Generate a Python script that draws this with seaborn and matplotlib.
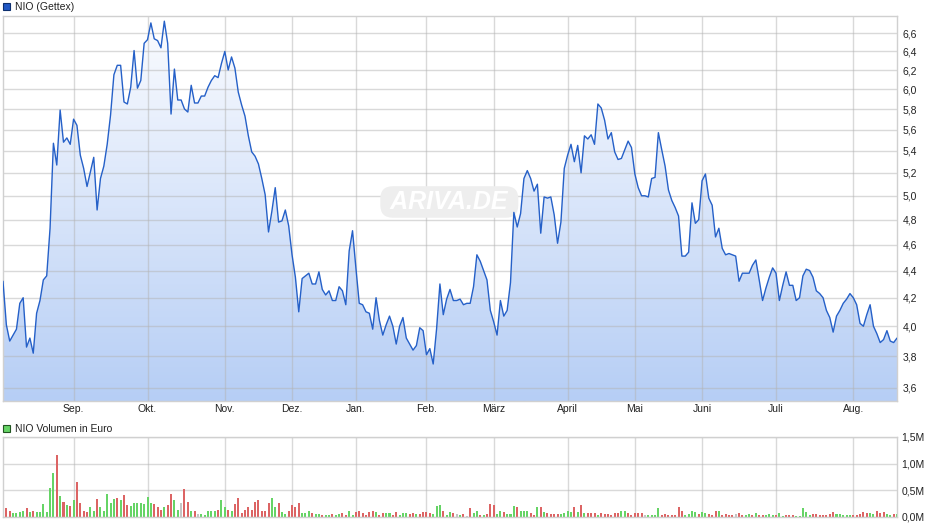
import numpy as np
import matplotlib
matplotlib.use("Agg")
import matplotlib.pyplot as plt
import seaborn as sns
from matplotlib.colors import LinearSegmentedColormap
from matplotlib.patches import Rectangle
from matplotlib.ticker import NullLocator

# closing price in EUR, one value per trading day
price = [
    4.32, 4.01, 3.90, 3.94, 3.98, 4.16, 4.20, 3.86, 3.92, 3.82,
    4.09, 4.18, 4.33, 4.36, 4.73, 5.47, 5.27, 5.79, 5.48, 5.52,
    5.46, 5.70, 5.64, 5.36, 5.24, 5.08, 5.21, 5.34, 4.88, 5.15,
    5.26, 5.46, 5.74, 6.15, 6.25, 6.25, 5.87, 5.85, 6.02, 6.41,
    6.01, 6.09, 6.49, 6.53, 6.72, 6.54, 6.52, 6.44, 6.74, 6.49,
    5.75, 6.21, 5.89, 5.89, 5.80, 5.77, 6.04, 5.86, 5.86, 5.93,
    5.93, 6.02, 6.09, 6.14, 6.12, 6.27, 6.40, 6.20, 6.34, 6.22,
    5.97, 5.84, 5.73, 5.54, 5.39, 5.35, 5.28, 5.15, 5.01, 4.70,
    4.87, 5.07, 4.78, 4.79, 4.88, 4.75, 4.52, 4.35, 4.10, 4.34,
    4.36, 4.38, 4.30, 4.30, 4.39, 4.26, 4.22, 4.25, 4.18, 4.18,
    4.28, 4.25, 4.15, 4.55, 4.71, 4.42, 4.16, 4.15, 4.10, 4.09,
    3.98, 4.20, 4.04, 3.94, 4.01, 4.07, 4.00, 3.88, 4.00, 4.06,
    3.92, 3.88, 3.84, 3.87, 3.99, 3.97, 3.81, 3.85, 3.75, 3.98,
    4.30, 4.08, 4.19, 4.26, 4.18, 4.18, 4.19, 4.15, 4.16, 4.16,
    4.28, 4.52, 4.47, 4.40, 4.33, 4.11, 4.03, 3.94, 4.18, 4.07,
    4.11, 4.31, 4.86, 4.74, 4.85, 5.15, 5.22, 5.15, 5.04, 5.10,
    4.69, 4.99, 4.98, 4.99, 4.84, 4.61, 4.78, 5.24, 5.36, 5.46,
    5.30, 5.45, 5.20, 5.54, 5.51, 5.55, 5.46, 5.85, 5.81, 5.69,
    5.51, 5.57, 5.39, 5.32, 5.33, 5.41, 5.49, 5.43, 5.19, 5.07,
    5.00, 5.00, 4.99, 5.15, 5.16, 5.57, 5.41, 5.26, 5.05, 4.96,
    4.90, 4.83, 4.51, 4.51, 4.54, 4.94, 4.77, 4.80, 5.13, 5.19,
    4.98, 4.92, 4.66, 4.73, 4.57, 4.52, 4.53, 4.52, 4.51, 4.32,
    4.38, 4.38, 4.38, 4.44, 4.48, 4.33, 4.18, 4.27, 4.35, 4.42,
    4.38, 4.18, 4.29, 4.39, 4.29, 4.29, 4.18, 4.20, 4.36, 4.41,
    4.40, 4.35, 4.25, 4.23, 4.20, 4.11, 4.06, 3.96, 4.07, 4.11,
    4.16, 4.19, 4.23, 4.20, 4.15, 4.02, 4.00, 4.08, 4.15, 4.00,
    3.95, 3.89, 3.91, 3.97, 3.90, 3.89, 3.92,
]

# traded volume in million EUR per day
volume = [
    .14, .16, .12, .07, .08, .10, .11, .16, .10, .12,
    .09, .09, .25, .09, .54, .82, 1.17, .39, .29, .22,
    .20, .31, .65, .26, .12, .09, .18, .11, .33, .18,
    .12, .44, .26, .33, .35, .31, .42, .22, .20, .27,
    .27, .26, .24, .37, .26, .24, .18, .14, .18, .22,
    .44, .31, .14, .26, .52, .28, .12, .12, .06, .05,
    .03, .12, .12, .11, .14, .31, .18, .14, .11, .24,
    .35, .07, .14, .18, .14, .29, .31, .11, .12, .26,
    .35, .18, .26, .09, .05, .12, .22, .18, .26, .07,
    .07, .12, .07, .05, .05, .03, .03, .03, .05, .03,
    .05, .07, .03, .11, .03, .09, .11, .07, .03, .09,
    .11, .09, .03, .07, .07, .07, .03, .09, .03, .07,
    .07, .05, .07, .05, .05, .09, .09, .07, .05, .20,
    .22, .11, .03, .09, .07, .05, .03, .05, .01, .16,
    .07, .11, .03, .03, .05, .24, .22, .05, .11, .09,
    .05, .05, .20, .18, .12, .12, .11, .07, .03, .18,
    .18, .09, .07, .05, .05, .05, .05, .07, .12, .09,
    .18, .09, .22, .07, .07, .07, .07, .03, .07, .05,
    .05, .03, .07, .07, .12, .11, .07, .03, .07, .07,
    .07, .03, .03, .03, .03, .16, .03, .05, .03, .03,
    .03, .18, .12, .03, .05, .11, .09, .05, .09, .07,
    .05, .03, .11, .11, .03, .05, .03, .03, .05, .07,
    .03, .03, .05, .03, .07, .03, .03, .03, .05, .03,
    .03, .07, .01, .03, .03, .03, .01, .01, .16, .09,
    .03, .05, .05, .03, .03, .03, .05, .09, .05, .05,
    .03, .03, .03, .03, .03, .05, .09, .07, .07, .05,
    .11, .07, .09, .05, .03, .05, .05,
]

# g = up day, r = down day, n = unchanged
direction = list(
    "grrggggrgr" "ggggggrgrg" "rgrrrrggrg" "ggggrgrrgg" "gggggrrrgr"
    "rggnrrgrng" "ggggrggrgr" "rrrrrrrrrr" "ggrggrrrrg" "ggrggrggrg"
    "grrggrrrrr" "rgrrggrrgg" "grrgrrrrgg" "grggrngrnr"
    "ggrgrrrggr" "gggrgggrrg" "rgrrrrgggg" "rgrgrrrgrr" "rrrrggrrrr"
    "rnggggrrrr" "rrrggggrgg" "rrrgrrrrnr" "rggrgrrggg" "rggrrrgggg"
    "grrrrrrrgg" "gggrrrrrgg" "rrrggrg"
)

# trading-day index of the first day of each month
month_pos = [21, 43, 66, 86, 105, 126, 146, 168, 188, 208, 230, 253]
month_labels = ["Sep.", "Okt.", "Nov.", "Dez.", "Jan.", "Feb.", "März",
                "April", "Mai", "Juni", "Juli", "Aug."]

price_ticks = [3.6, 3.8, 4.0, 4.2, 4.4, 4.6, 4.8, 5.0, 5.2, 5.4, 5.6, 5.8, 6.0, 6.2, 6.4, 6.6]
volume_ticks = [0.0, 0.5, 1.0, 1.5]

days = np.arange(len(price))

sns.set_theme(style="white")
plt.rcParams["font.family"] = ["Liberation Sans", "DejaVu Sans"]

GRID = "#b4b4b4"
FRAME = "#d0d0d0"

fig = plt.figure(figsize=(9.4, 5.26), dpi=100)
ax = fig.add_axes([3 / 940, 1 - 401 / 526, 894 / 940, 385 / 526])
axv = fig.add_axes([3 / 940, 1 - 517 / 526, 894 / 940, 80 / 526])

# --- price panel ---
sns.lineplot(x=days, y=price, color="#2560c8", linewidth=1.0, ax=ax, zorder=3)
poly = ax.fill_between(days, price, 3.3, facecolor="none", edgecolor="none")

ax.set_yscale("log")
ax.set_xlim(0, len(price) - 1)
ax.set_ylim(3.52, 6.80)
ax.set_autoscale_on(False)

cmap = LinearSegmentedColormap.from_list("fill", ["#fbfcff", "#b6cef5"])
grad = np.linspace(0, 1, 256).reshape(-1, 1)
im = ax.imshow(grad, extent=[0, 1, 0, 1], transform=ax.transAxes, cmap=cmap,
               aspect="auto", origin="upper", zorder=1)
im.set_clip_path(poly.get_paths()[0], transform=ax.transData)

ax.set_yticks(price_ticks, labels=[f"{t:.1f}".replace(".", ",") for t in price_ticks])
ax.yaxis.set_minor_locator(NullLocator())
ax.set_xticks(month_pos, labels=month_labels)
ax.yaxis.tick_right()
ax.tick_params(axis="y", which="both", length=0, pad=4, labelsize=7.5, colors="#222222")
ax.tick_params(axis="x", length=0, pad=2.5, labelsize=7.5, colors="#222222")
ax.set_axisbelow("line")
ax.grid(True, color=GRID, alpha=0.5, linewidth=1)
ax.set_xlabel("")
ax.set_ylabel("")
for s in ax.spines.values():
    s.set_color(FRAME)
    s.set_linewidth(1)

# watermark
ax.text(0.478, 0.616, " ARIVA.DE ", transform=fig.transFigure, ha="center", va="center",
        fontsize=18, fontstyle="italic", fontweight="bold", color="white", zorder=1.6,
        bbox=dict(boxstyle="round,pad=0.15,rounding_size=0.5", fc="#eeeeee", ec="none"))

# --- volume panel ---
sns.barplot(x=days, y=volume, hue=direction,
            palette={"g": "#66d466", "r": "#dc6464", "n": "#c4c4c4"},
            native_scale=True, dodge=False, width=0.6, saturation=1, linewidth=0,
            errorbar=None, legend=False, ax=axv, zorder=2)
axv.set_xlim(0, len(price) - 1)
axv.set_ylim(0, 1.5)
axv.set_xticks(month_pos, labels=[])
axv.set_yticks(volume_ticks, labels=[f"{t:.1f}M".replace(".", ",") for t in volume_ticks])
axv.yaxis.tick_right()
axv.tick_params(axis="y", length=0, pad=3, labelsize=7.5, colors="#222222")
axv.tick_params(axis="x", length=0)
axv.set_axisbelow(True)
axv.grid(True, color=GRID, alpha=0.5, linewidth=1)
axv.set_xlabel("")
axv.set_ylabel("")
for s in axv.spines.values():
    s.set_color(FRAME)
    s.set_linewidth(1)

# panel captions with coloured squares
fig.add_artist(Rectangle((3.3 / 940, 1 - 10 / 526), 6.7 / 940, 6.7 / 526, transform=fig.transFigure,
                         facecolor="#2158c4", edgecolor="#0d2f6e", linewidth=0.8))
fig.text(15 / 940, 1 - 6.8 / 526, "NIO (Gettex)", ha="left", va="center", fontsize=7.5, color="#222222")
fig.add_artist(Rectangle((3.3 / 940, 1 - 432 / 526), 6.7 / 940, 6.7 / 526, transform=fig.transFigure,
                         facecolor="#66d466", edgecolor="#225522", linewidth=0.8))
fig.text(15 / 940, 1 - 428.6 / 526, "NIO Volumen in Euro", ha="left", va="center", fontsize=7.5,
         color="#222222")

fig.savefig("out.png", dpi=100, facecolor="white")
plt.close(fig)
